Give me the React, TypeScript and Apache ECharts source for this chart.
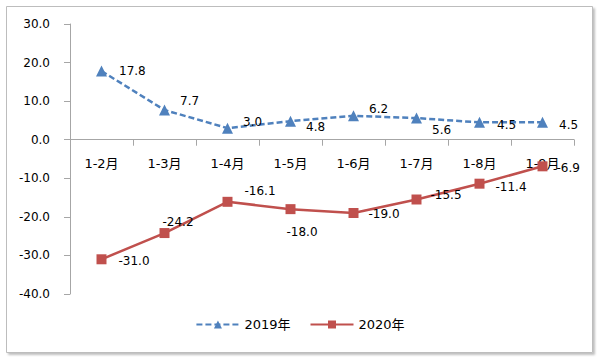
import React, { useEffect, useRef } from "react";
import * as echarts from "echarts";

const categories = ["1-2月", "1-3月", "1-4月", "1-5月", "1-6月", "1-7月", "1-8月", "1-9月"];
const values2019 = [17.8, 7.7, 3.0, 4.8, 6.2, 5.6, 4.5, 4.5];
const values2020 = [-31.0, -24.2, -16.1, -18.0, -19.0, -15.5, -11.4, -6.9];
const seriesNames = ["2019年", "2020年"];
// label offsets [dx of label left edge from point, dy of label centre]
const labelOffsets2019 = [[17, 0], [15, -9], [15, -6], [15, 6], [15, -7], [15, 12], [17, 3], [16, 3]];
const labelOffsets2020 = [[17, 2], [-2, -11], [17, -11], [-4, 23], [15, 1], [14, -5], [16, 3], [14, 2]];

const FONT = "'DejaVu Sans', 'Noto Sans CJK SC', sans-serif";
const GRID_TOP = 24;
const GRID_BOTTOM = 66;
const Y_MIN = -40;
const Y_MAX = 30;

function mkData(values: number[], offs: number[][], symHalf: number) {
  return values.map((v, i) => ({
    value: v,
    label: {
      show: true,
      position: "right",
      distance: 0,
      offset: [offs[i][0] - symHalf, offs[i][1]],
      formatter: (p: any) => Number(p.value).toFixed(1),
      color: "#000",
      fontFamily: FONT,
      fontSize: 12,
    },
  }));
}

export default function App() {
  const ref = useRef<HTMLDivElement>(null);
  useEffect(() => {
    if (!ref.current) return;
    const chart = echarts.init(ref.current, undefined, { renderer: "svg" });
    const plotH = 360 - GRID_TOP - GRID_BOTTOM;
    const zeroFromBottom = ((0 - Y_MIN) / (Y_MAX - Y_MIN)) * plotH;
    chart.setOption({
      animation: false,
      backgroundColor: "#fff",
      graphic: [
        {
          type: "rect",
          shape: { x: 6.5, y: 6.5, width: 586, height: 346 },
          style: {
            fill: "#fff",
            stroke: "#bdbdbd",
            lineWidth: 1,
            shadowBlur: 2,
            shadowOffsetX: 2,
            shadowOffsetY: 2,
            shadowColor: "rgba(0,0,0,0.25)",
          },
          z: -10,
          silent: true,
        },
      ],
      grid: { left: 70, right: 26, top: GRID_TOP, bottom: GRID_BOTTOM, containLabel: false },
      legend: {
        bottom: 24,
        left: "center",
        itemWidth: 43,
        itemHeight: 10,
        itemGap: 19,
        textStyle: { fontFamily: FONT, fontSize: 13, color: "#000" },
        data: seriesNames,
      },
      xAxis: {
        type: "category",
        data: categories,
        position: "bottom",
        offset: -zeroFromBottom,
        boundaryGap: true,
        axisLine: { onZero: false, lineStyle: { color: "#a6a6a6", width: 1 } },
        axisTick: { show: true, length: 6, lineStyle: { color: "#a6a6a6" } },
        axisLabel: { margin: 17, color: "#000", fontFamily: FONT, fontSize: 13 },
        splitLine: { show: false },
      },
      yAxis: {
        type: "value",
        min: Y_MIN,
        max: Y_MAX,
        interval: 10,
        axisLine: { show: true, lineStyle: { color: "#a6a6a6", width: 1 } },
        axisTick: { show: true, length: 6, lineStyle: { color: "#a6a6a6" } },
        axisLabel: {
          margin: 20,
          color: "#000",
          fontFamily: FONT,
          fontSize: 12,
          formatter: (v: number) => v.toFixed(1),
        },
        splitLine: { show: false },
      },
      series: [
        {
          name: seriesNames[0],
          type: "line",
          data: mkData(values2019, labelOffsets2019, 5),
          symbol: "triangle",
          symbolSize: 11,
          showAllSymbol: true,
          lineStyle: { color: "#4f81bd", width: 2.5, type: [6, 3] },
          itemStyle: { color: "#4f81bd" },
        },
        {
          name: seriesNames[1],
          type: "line",
          data: mkData(values2020, labelOffsets2020, 5),
          symbol: "rect",
          symbolSize: 10,
          showAllSymbol: true,
          lineStyle: { color: "#c0504d", width: 2.5 },
          itemStyle: { color: "#c0504d" },
        },
      ],
    });
    return () => chart.dispose();
  }, []);
  return (
    <div
      ref={ref}
      style={{ position: "fixed", left: 0, top: 0, width: 600, height: 360 }}
    />
  );
}
